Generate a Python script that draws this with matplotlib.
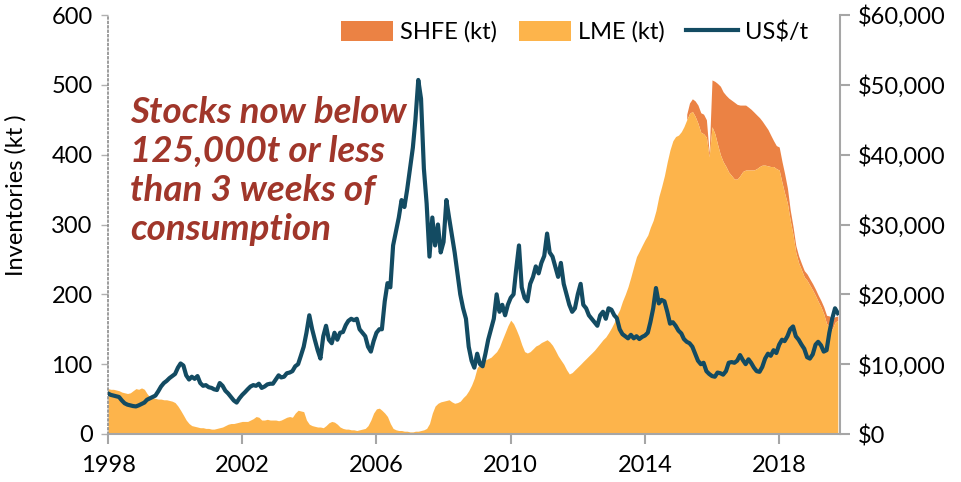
import pandas as pd
import matplotlib
matplotlib.use('Agg')
import matplotlib.pyplot as plt
from matplotlib.ticker import FuncFormatter

plt.rcParams['font.family'] = ['Lato', 'DejaVu Sans']

# nickel price, US$/t, monthly from Jan 1998
price = [
    5800, 5600, 5500, 5400, 5300, 4800, 4400, 4200, 4100, 4000, 3950, 4100,
    4300, 4500, 4900, 5100, 5300, 5500, 6100, 6800, 7300, 7600, 8000, 8300,
    8600, 9500, 10100, 9800, 8400, 7800, 8200, 7900, 8300, 7300, 6900, 7000,
    6700, 6600, 6400, 6300, 7300, 6900, 6200, 5800, 5300, 4800, 4500, 5100,
    5600, 6000, 6400, 6800, 7000, 6900, 7200, 6600, 6800, 7100, 7200, 7200,
    7800, 8400, 8100, 8200, 8700, 8800, 9000, 9700, 10000, 11200, 12500, 14500,
    17000, 15000, 13500, 12000, 10800, 14000, 15500, 13500, 13000, 14500, 13500, 14500,
    14600, 15600, 16200, 16500, 16300, 16500, 15000, 14500, 14000, 12500, 11800, 13300,
    14500, 15000, 15000, 19000, 21600, 21000, 27000, 29000, 31000, 33500, 32500, 35000,
    38000, 41000, 45000, 50700, 48000, 38000, 33000, 25400, 31000, 27000, 30000, 26000,
    27500, 33500, 31000, 28500, 26000, 23000, 20000, 18000, 16500, 12500, 10500, 9500,
    11500, 10000, 9700, 11500, 13500, 15000, 16500, 20000, 17500, 18500, 17000, 18500,
    19500, 20000, 23500, 27000, 21000, 19500, 19000, 21500, 22500, 24000, 23000, 24500,
    25500, 28700, 26000, 25400, 24000, 22500, 24500, 21500, 20000, 18500, 17500, 18000,
    20000, 21500, 18500, 18000, 17000, 16500, 16000, 15500, 17000, 17500, 16500, 18000,
    17800, 17000, 16600, 15000, 14300, 14000, 13700, 14200, 13700, 14000, 13600, 13900,
    14100, 14500, 16000, 18000, 20900, 18700, 19200, 19000, 17500, 15800, 16000, 15500,
    14800, 14400, 13600, 13200, 13000, 12500, 11500, 10500, 10000, 10200, 9000, 8600,
    8300, 8200, 8800, 8700, 8500, 9000, 10200, 10300, 10200, 10500, 11300, 10600,
    10000, 10700, 10200, 9500, 9000, 8900, 9600, 10800, 11500, 11200, 12000, 11600,
    12800, 13500, 13300, 14000, 15000, 15400, 14000, 13500, 12800, 12200, 11000, 10800,
    11400, 12800, 13200, 12700, 11800, 12000, 14500, 16500, 18000, 17300,
]

# LME stocks, kt, monthly from Jan 1998
lme = [
    65, 64, 64, 63, 62, 60, 59, 58, 59, 62, 65, 64,
    66, 64, 58, 53, 52, 51, 50, 50, 49, 49, 48, 47,
    45, 40, 34, 27, 20, 15, 12, 11, 10, 9, 9, 8,
    8, 7, 7, 8, 9, 10, 12, 14, 15, 15, 16, 17,
    18, 18, 18, 20, 22, 25, 24, 20, 20, 21, 20, 20,
    20, 19, 20, 22, 24, 25, 24, 30, 34, 33, 32, 20,
    14, 12, 11, 10, 10, 9, 12, 16, 18, 17, 14, 10,
    8, 7, 7, 6, 6, 5, 6, 7, 8, 12, 20, 30,
    36, 37, 34, 30, 25, 15, 8, 6, 5, 5, 4, 4,
    3, 3, 4, 4, 5, 6, 8, 15, 30, 40, 44, 46,
    47, 48, 49, 46, 44, 45, 47, 52, 56, 62, 70, 80,
    95, 100, 104, 106, 108, 110, 114, 118, 125, 135, 145, 155,
    163, 158, 150, 140, 128, 118, 116, 118, 122, 126, 128, 131,
    133, 135, 132, 127, 120, 112, 106, 100, 92, 86, 88, 92,
    96, 100, 104, 108, 112, 116, 120, 125, 130, 135, 139, 145,
    152, 160, 170, 178, 190, 200, 211, 225, 240, 254, 262, 270,
    278, 285, 296, 306, 320, 340, 354, 370, 390, 407, 420, 426,
    428, 433, 440, 450, 459, 462, 455, 445, 432, 430, 425, 397,
    440, 430, 415, 400, 390, 383, 375, 370, 365, 365, 370, 376,
    378, 378, 378, 378, 380, 383, 385, 385, 384, 383, 383, 380,
    378, 360, 345, 330, 306, 285, 260, 245, 235, 225, 220, 213,
    206, 198, 190, 182, 172, 158, 155, 150, 160, 163,
]

# SHFE stocks, kt, monthly from Apr 2015
shfe = [
    8, 15, 18, 22, 26, 28, 28, 25, 5,
    67, 75, 87, 98, 100, 102, 106, 108, 110, 107, 101, 95,
    93, 90, 87, 83, 77, 70, 63, 57, 52, 45, 37, 33,
    33, 30, 28, 22, 15, 12, 10, 10, 9, 9, 9, 9,
    9, 9, 9, 9, 10, 12, 14, 15, 8, 6,
]

year_ticks = ['1998', '2002', '2006', '2010', '2014', '2018']

dates = pd.date_range('1998-01-01', periods=len(price), freq='MS')
shfe_dates = dates[-len(shfe):]
total_tail = [a + b for a, b in zip(lme[-len(shfe):], shfe)]

c_lme = '#FDB44B'
c_shfe = '#EB8244'
c_line = '#134B62'
c_axis = '#A6A6A6'
fs = 17

fig = plt.figure(figsize=(9.61, 4.82), dpi=100)
ax = fig.add_axes([108 / 961, 1 - 434 / 482, (840 - 108) / 961, (434 - 15) / 482])
ax2 = ax.twinx()

ax.fill_between(shfe_dates, lme[-len(shfe):], total_tail, color=c_shfe, lw=0, label='SHFE (kt)')
ax.fill_between(dates, 0, lme, color=c_lme, lw=0, label='LME (kt)')
ax2.plot(dates, price, color=c_line, lw=3.0, label='US$/t')

ax.set_xlim(pd.Timestamp('1998-01-01'), pd.Timestamp('2019-10-25'))
ax.set_ylim(0, 600)
ax2.set_ylim(0, 60000)
ax.set_yticks(range(0, 601, 100))
ax2.set_yticks(range(0, 60001, 10000))
ax2.yaxis.set_major_formatter(FuncFormatter(lambda v, p: '${:,.0f}'.format(v)))

ax.set_xticks([pd.Timestamp(y + '-01-01') for y in year_ticks])
ax.set_xticklabels(year_ticks)

for a in (ax, ax2):
    a.spines['top'].set_visible(False)
ax.spines['right'].set_visible(False)
ax2.spines['left'].set_visible(False)
ax2.spines['bottom'].set_visible(False)
ax.spines['left'].set_linestyle(':')
ax.spines['left'].set_color('#8C8C8C')
ax.spines['left'].set_linewidth(1.2)
ax.spines['bottom'].set_color(c_axis)
ax.spines['bottom'].set_linewidth(1.5)
ax2.spines['right'].set_color(c_axis)
ax2.spines['right'].set_linewidth(1.5)

ax.tick_params(axis='y', length=5, width=1, color='#B0B0B0', labelsize=fs, pad=6)
ax.tick_params(axis='x', length=7, width=1.5, color=c_axis, labelsize=fs, pad=8)
ax2.tick_params(axis='y', length=7, width=1.5, color=c_axis, labelsize=fs, pad=6)

ax.set_ylabel('Inventories (kt )', fontsize=fs)
ax.yaxis.set_label_coords(-0.111, 0.57)

fig.text(130 / 961, 1 - 96 / 482,
         'Stocks now below\n125,000t or less\nthan 3 weeks of\nconsumption',
         fontsize=26.5, fontweight='bold', fontstyle='italic', color='#A0362A',
         va='top', ha='left', linespacing=1.22)

h1, l1 = ax.get_legend_handles_labels()
h2, l2 = ax2.get_legend_handles_labels()
fig.legend(h1 + h2, l1 + l2, ncol=3, frameon=False, fontsize=fs,
           loc='center right', bbox_to_anchor=(829 / 961, 1 - 32 / 482),
           handlelength=2.2, handleheight=0.9, columnspacing=0.9, handletextpad=0.3)

fig.savefig('out.png', dpi=100)
